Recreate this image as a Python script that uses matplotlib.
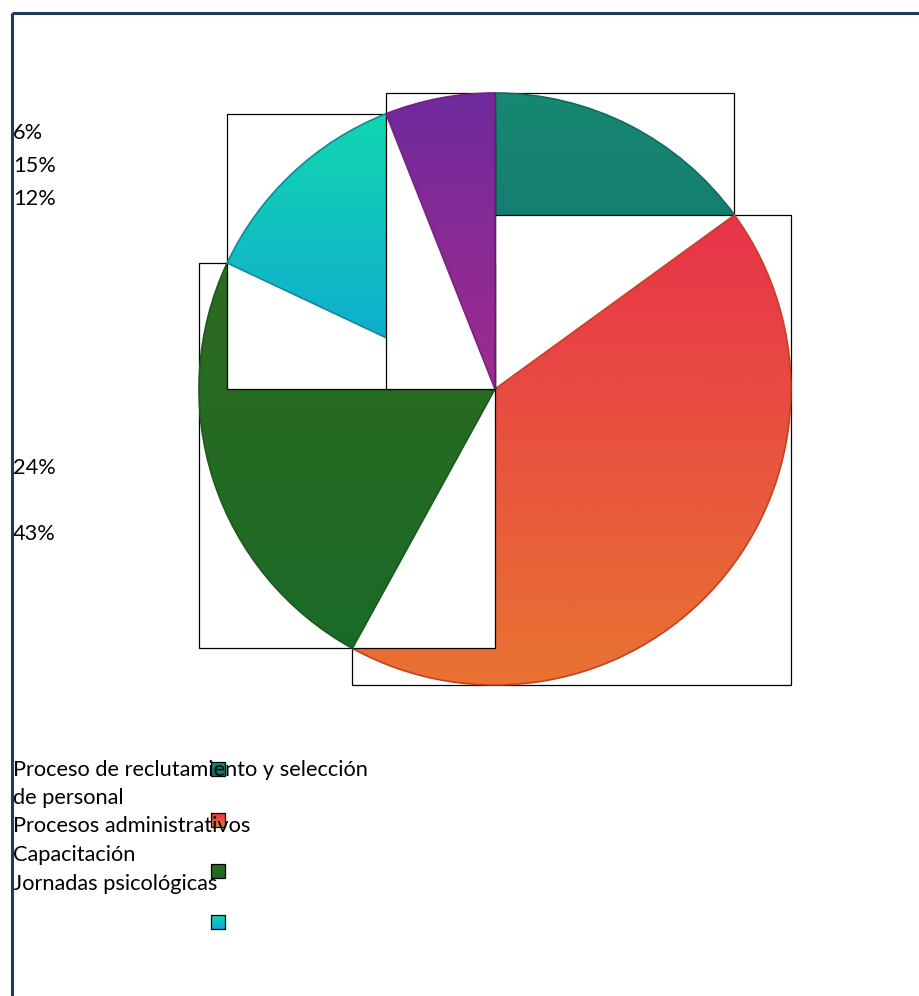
import numpy as np
import matplotlib
matplotlib.use("Agg")
import matplotlib.pyplot as plt
from matplotlib.patches import Wedge, Rectangle
from matplotlib.colors import LinearSegmentedColormap

# slice data, in drawing order (clockwise from 12 o'clock)
labels = ["Proceso de reclutamiento y selección\nde personal",
          "Procesos administrativos", "Capacitación", "Jornadas psicológicas", ""]
values = [15, 43, 24, 12, 6]
pct_text = ["15%", "43%", "24%", "12%", "6%"]
# gradient colours (top, bottom) for each slice
top_cols = ["#178870", "#e8334b", "#2f6a1f", "#12d6b0", "#6e2a9c"]
bot_cols = ["#137173", "#e87332", "#1a6b28", "#0fa5d5", "#a22a8e"]
edge_cols = ["#106a60", "#c8401c", "#1c5a1c", "#0f8a9a", "#7a2080"]

# order of the percentage labels on the left side, top to bottom
pct_order = [4, 0, 3, 2, 1]
pct_y = [133, 166, 199, 468, 534]

W, H = 920, 996
fig = plt.figure(figsize=(W / 100, H / 100), dpi=100)
ax = fig.add_axes([0, 0, 1, 1])
ax.set_xlim(0, W)
ax.set_ylim(0, H)
ax.axis("off")

font = "Lato"
fsize = 15.7
cx, cy, r = 495, H - 389, 296
grad = np.linspace(0, 1, 256).reshape(-1, 1)
cmaps = [LinearSegmentedColormap.from_list("g%d" % i, [bot_cols[i], top_cols[i]])
         for i in range(len(values))]

start = 90.0
for i, v in enumerate(values):
    t2 = start
    t1 = start - v * 3.6
    start = t1
    w = Wedge((cx, cy), r, t1, t2)
    ext = w.get_path().get_extents()
    # white box under each slice (hides part of earlier slices)
    ax.add_patch(Rectangle((ext.x0, ext.y0), ext.width, ext.height,
                           facecolor="white", edgecolor="black", lw=0.9, zorder=2 + i * 3))
    im = ax.imshow(grad, cmap=cmaps[i], origin="lower", aspect="auto",
                   extent=[ext.x0, ext.x1, ext.y0, ext.y1], zorder=3 + i * 3)
    clip = Wedge((cx, cy), r, t1, t2, transform=ax.transData)
    im.set_clip_path(clip)
    ax.add_patch(Wedge((cx, cy), r, t1, t2, fill=False, edgecolor=edge_cols[i],
                       lw=1.2, zorder=4 + i * 3))

# percentage labels
for k, yy in zip(pct_order, pct_y):
    ax.text(13, H - yy, pct_text[k], fontsize=fsize, family=font, va="center", ha="left",
            color="black", zorder=30)

# legend text
leg_y = [770, 826, 855, 884]
for lab, yy in zip(labels[:4], leg_y):
    for j, ln in enumerate(lab.split("\n")):
        ax.text(13, H - yy - j * 28, ln, fontsize=fsize, family=font, va="center", ha="left",
                color="black", zorder=30)

# legend swatches (small gradient squares)
sw_y = [769, 820, 871, 922]
for i, yy in enumerate(sw_y):
    x0, y0 = 211, H - yy - 7
    im = ax.imshow(grad, cmap=cmaps[i], origin="lower", aspect="auto",
                   extent=[x0, x0 + 14, y0, y0 + 14], zorder=28)
    ax.add_patch(Rectangle((x0, y0), 14, 14, fill=False, edgecolor="black", lw=0.9, zorder=29))

ax.set_xlim(0, W)
ax.set_ylim(0, H)

# frame lines
ax.plot([12, 12], [0, H - 13], color="#1f3a5a", lw=2.2, solid_capstyle="butt", zorder=40)
ax.plot([12, W], [H - 13, H - 13], color="#1f3a5a", lw=2.2, solid_capstyle="butt", zorder=40)

fig.savefig("out.png", dpi=100, facecolor="white")
